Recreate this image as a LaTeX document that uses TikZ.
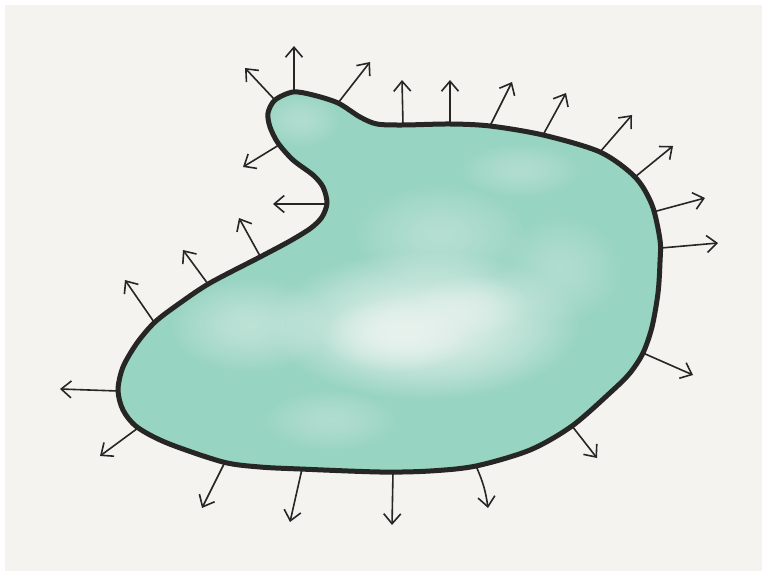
\documentclass[tikz,border=0pt]{standalone}
\usetikzlibrary{arrows.meta,fadings}
\definecolor{bg}{HTML}{F4F3EF}
\definecolor{tealA}{HTML}{98D4C2}
\definecolor{tealL}{HTML}{EAF3EF}
\definecolor{ink}{HTML}{262624}
\pgfdeclareradialshading{softspotshade}{\pgfpointorigin}{color(0bp)=(white); color(5bp)=(white!85!black); color(12bp)=(white!40!black); color(17bp)=(black); color(50bp)=(black)}
\pgfdeclarefading{softspot}{\pgfuseshading{softspotshade}}
\begin{document}
\begin{tikzpicture}[x=1pt,y=-1pt,
  normal/.style={ink, line width=1.6pt, line cap=round,
    -{Straight Barb[length=10pt,width=17pt,line width=1.6pt]}},
  spot/.style={fill=tealL, path fading=softspot, fill opacity=#1}]
\useasboundingbox (0,0) rectangle (762,572);
\fill[white] (0,0) rectangle (762,572);
\fill[bg] (5,5) rectangle (762,571);
\path[save path=\blobpath] plot[smooth cycle, tension=0.5] coordinates {
 (293,92) (313,95) (338,103) (360,117) (377,124) (403,125) (450,124)
 (490,126) (543,135) (600,152) (635,177) (652,205) (660,240) (660,262)
 (658,293) (652,327) (643,353) (630,373) (612,391) (572,426)
 (530,450) (476,466) (430,471) (380,472) (300,469) (260,467) (223,462)
 (167,443) (137,427) (123,410) (118,390) (123,367) (137,343) (155,322)
 (180,303) (210,283) (260,257) (290,241) (311,228) (322,217) (327,203)
 (323,187) (313,175) (293,160) (278,143) (270,127) (268,113) (275,100)};
\fill[tealA, use path=\blobpath];
\begin{scope}
  \clip[use path=\blobpath];
  \path[spot=0.45] (250,325) ellipse (120 and 70);
  \path[spot=0.35] (440,235) ellipse (130 and 75);
  \path[spot=0.3] (560,270) ellipse (90 and 80);
  \path[spot=0.3] (300,120) ellipse (60 and 40);
  \path[spot=0.3] (520,170) ellipse (90 and 40);
  \path[spot=0.9] (425,325) ellipse (230 and 110);
  \path[spot=0.8] (395,335) ellipse (110 and 55);
  \path[spot=0.5] (470,305) ellipse (90 and 45);
  \path[spot=0.3] (330,420) ellipse (100 and 45);
\end{scope}
% normal arrows
\coordinate (s1) at (294,92);   \coordinate (e1) at (294,46);
\coordinate (s2) at (274,99);   \coordinate (e2) at (245,68);
\coordinate (s3) at (338,103);  \coordinate (e3) at (370,62);
\coordinate (s4) at (279,145);  \coordinate (e4) at (243,167);
\coordinate (s5) at (326,204);  \coordinate (e5) at (273,204);
\coordinate (s6) at (260,256);  \coordinate (e6) at (239,218);
\coordinate (s7) at (208,284);  \coordinate (e7) at (183,250);
\coordinate (s8) at (154,322);  \coordinate (e8) at (125,280);
\coordinate (s9) at (118,391);  \coordinate (e9) at (60,389);
\coordinate (s10) at (138,428); \coordinate (e10) at (100,456);
\coordinate (s11) at (225,462); \coordinate (e11) at (202,508);
\coordinate (s12) at (302,469); \coordinate (e12) at (290,522);
\coordinate (s13) at (393,472); \coordinate (e13) at (392,525);
\coordinate (s14) at (476,466); \coordinate (e14) at (488,508);
\coordinate (s15) at (572,426); \coordinate (e15) at (597,458);
\coordinate (s16) at (643,353); \coordinate (e16) at (693,375);
\coordinate (s17) at (661,248); \coordinate (e17) at (718,243);
\coordinate (s18) at (653,212); \coordinate (e18) at (705,198);
\coordinate (s19) at (635,177); \coordinate (e19) at (673,146);
\coordinate (s20) at (600,152); \coordinate (e20) at (632,115);
\coordinate (s21) at (543,135); \coordinate (e21) at (566,93);
\coordinate (s22) at (490,126); \coordinate (e22) at (512,82);
\coordinate (s23) at (450,124); \coordinate (e23) at (450,80);
\coordinate (s24) at (403,125); \coordinate (e24) at (402,80);
\foreach \i in {1,...,13,15,16,...,24} {\draw[normal] (s\i) -- (e\i);}
\draw[normal] (s14) to[bend left=8] (e14);
\draw[ink, line width=5pt, use path=\blobpath];
\end{tikzpicture}
\end{document}
